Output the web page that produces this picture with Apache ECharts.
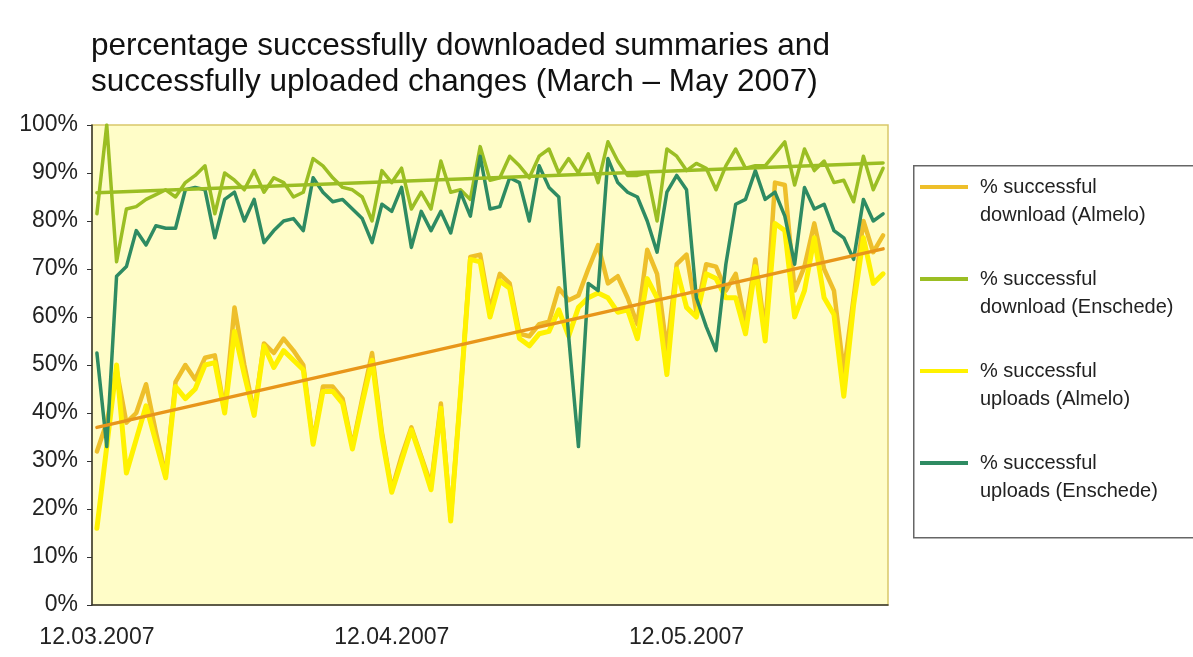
<!DOCTYPE html>
<html><head><meta charset="utf-8">
<script src="https://cdn.jsdelivr.net/npm/echarts@6/dist/echarts.min.js"></script>
<style>html,body{margin:0;padding:0;background:#fff}#c{width:1193px;height:657px}</style>
</head><body><div id="c"></div>
<script>
// one category per reported day (81 days); labels shown every 30 categories
const dayCount = 81;
const days = [];
for (let i = 0; i < dayCount; i++) days.push(i);
const xTickLabels = ['12.03.2007', '12.04.2007', '12.05.2007'];
const xTickEvery = 30;
const yTicks = [0, 10, 20, 30, 40, 50, 60, 70, 80, 90, 100];

const downloadAlmelo = [32,38,49,38,40,46,36,27,46.5,50,47,51.5,52,40.5,62,50,40,54.5,52.5,55.5,53,50,34,45.5,45.5,43,33,43,52.5,36,24,31,37,31,25,42,18,44,72.5,73,61.5,69,67,56.5,56,58.5,59,66,63.5,64.5,70,75,67,68.5,64,58.5,74,69,53,71,73,61,71,70.5,65.5,69,58.5,72,57,88,87.5,65.5,70.5,79.5,70,65.5,48.5,64,80,73.5,77];
const downloadEnschede = [81.5,100,71.5,82.5,83,84.5,85.5,86.5,85,88,89.5,91.5,81.5,90,88.5,86.5,90.5,86,89,88,85,86,93,91.5,89,87,86.5,85,80,90.5,88,91,82.5,86,82.5,92.5,86,86.5,84.5,95.5,88.5,89,93.5,91.5,89,93.5,95,90,93,90,94,88,96.5,92.5,89.5,89.5,90,80,95,93.5,90.5,92,91,86.5,91.5,95,91,91.5,91.5,94,96.5,87.5,95,90.5,92.5,88,88.5,84,93.5,86.5,91];
const uploadsAlmelo = [16,33,50,27.5,34.5,41.5,34,26.5,45.5,43,45,50,50.5,40,57,48,39.5,54,49.5,53,51,49,33.5,44.5,44.5,42,32.5,42,51,35,23.5,30,36.5,30.5,24,41,17.5,44,72,71.5,60,67.5,66,55.5,54,56.5,57,61.5,56,62,64,65,64,61,61.5,55.5,68,64,48,70,62,60,69,68,64,64,56.5,70.5,55,79.5,78,60,65.5,76.5,64,60.5,43.5,62.5,76.5,67,69];
const uploadsEnschede = [52.5,33,68.5,70.5,78,75,79,78.5,78.5,86.5,87,86.5,76.5,84.5,86,80,84.5,75.5,78,80,80.5,78,89,86,84,84.5,82.5,80.5,75.5,83.5,82,87,74.5,82,78,82,77.5,86,81,93.5,82.5,83,89,88,80,91.5,87,85,56,33,67,65.5,93,88,86,85,80,73.5,86,89.5,86.5,64,58,53,71,83.5,84.5,90.5,84.5,86,81,71,87,82.5,83.5,78,76.5,72,84.5,80,81.5];
// linear trend lines: value at first and last day
const trendAlmelo = [37, 74.2];
const trendEnschede = [85.9, 92.1];

const names = ['% successful\ndownload (Almelo)', '% successful\ndownload (Enschede)', '% successful\nuploads (Almelo)', '% successful\nuploads (Enschede)'];
const colors = ['#EEBF2A', '#9BBE23', '#FFF200', '#2E8B62'];

function line(name, data, color, width, z) {
  return { type: 'line', name, data, symbol: 'none', z, silent: true,
    lineStyle: { color, width, join: 'round', cap: 'round' }, itemStyle: { color },
    emphasis: { disabled: true } };
}
const last = dayCount - 1;
const FONT = 'Liberation Sans, Arial, sans-serif';
const chart = echarts.init(document.getElementById('c'), null, { renderer: 'canvas' });
chart.setOption({
  animation: false,
  backgroundColor: '#ffffff',
  title: {
    text: 'percentage successfully downloaded summaries and\nsuccessfully uploaded changes (March – May 2007)',
    left: 86, top: 23,
    textStyle: { fontFamily: FONT, fontSize: 31.5, fontWeight: 'normal', color: '#111', lineHeight: 36 }
  },
  grid: { left: 92, right: 305, top: 125, bottom: 52, show: true, backgroundColor: '#FFFDC8', borderColor: '#D9C76A', borderWidth: 1.5 },
  xAxis: {
    type: 'category', data: days, boundaryGap: true,
    axisLine: { lineStyle: { color: '#333', width: 1.5 } },
    axisTick: { interval: 0, length: 7, lineStyle: { color: '#333', width: 1 } },
    axisLabel: { interval: xTickEvery - 1, margin: 21, fontFamily: FONT, fontSize: 23, color: '#222',
      formatter: (v, idx) => xTickLabels[Math.round(idx / xTickEvery)] || '' },
    splitLine: { show: false }
  },
  yAxis: {
    type: 'value', min: yTicks[0], max: yTicks[yTicks.length - 1], interval: yTicks[1] - yTicks[0],
    axisLine: { show: true, lineStyle: { color: '#333', width: 1.5 } },
    axisTick: { show: true, length: 5, lineStyle: { color: '#333' } },
    axisLabel: { margin: 14, fontFamily: FONT, fontSize: 23, color: '#222', formatter: '{value}%' },
    splitLine: { show: false }
  },
  legend: {
    data: names, orient: 'vertical', left: 920, top: 145, padding: 0, itemGap: 8,
    icon: 'rect', itemWidth: 48, itemHeight: 4, selectedMode: false,
    formatter: n => '\n' + n,
    textStyle: { fontFamily: FONT, fontSize: 20, color: '#222', lineHeight: 28, padding: [0, 0, 0, 7] }
  },
  graphic: [{ type: 'rect', left: 913, top: 165, shape: { width: 300, height: 372 }, style: { fill: 'transparent', stroke: '#666', lineWidth: 1.5 }, z: -1 }],
  series: [
    line(names[0], downloadAlmelo, colors[0], 4.5, 2),
    line(names[1], downloadEnschede, colors[1], 3.5, 3),
    line(names[2], uploadsAlmelo, colors[2], 5, 4),
    line(names[3], uploadsEnschede, colors[3], 3.5, 5),
    line('trend Almelo', [[0, trendAlmelo[0]], [last, trendAlmelo[1]]], '#E8961A', 3.5, 6),
    line('trend Enschede', [[0, trendEnschede[0]], [last, trendEnschede[1]]], colors[1], 3.5, 6)
  ]
});
</script></body></html>
